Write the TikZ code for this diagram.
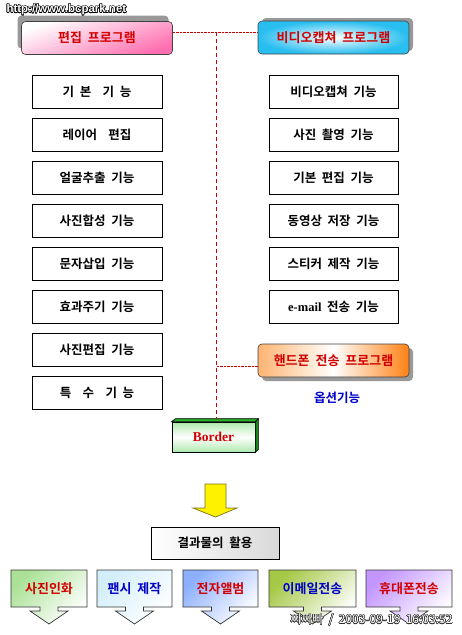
\documentclass[tikz,border=0pt]{standalone}
\usepackage{fontspec}
\setmainfont{Noto Sans CJK KR}[BoldFont={Noto Sans CJK KR Bold}, WordSpace=2]
\newfontfamily\borderfont{Liberation Serif}
\newfontfamily\urlfont{Liberation Sans}
\usepackage{contour}
\contourlength{0.5pt}
\usetikzlibrary{shadows}

\definecolor{textred}{RGB}{210,0,0}
\definecolor{textblue}{RGB}{0,0,200}
\definecolor{pinkfill}{RGB}{255,110,175}
\definecolor{skyfill}{RGB}{40,190,240}
\definecolor{orangefill}{RGB}{255,130,20}
\definecolor{barfill}{RGB}{40,200,40}
\definecolor{printfill}{RGB}{170,225,150}
\definecolor{fancyfill}{RGB}{210,238,250}
\definecolor{albumfill}{RGB}{140,175,255}
\definecolor{mailfill}{RGB}{165,200,70}
\definecolor{phonefill}{RGB}{195,150,255}

\pgfdeclareverticalshading{greenbar}{100bp}{color(0bp)=(barfill); color(30bp)=(white!70!barfill);
  color(50bp)=(white); color(70bp)=(white!70!barfill); color(100bp)=(barfill)}

% down arrow callout: left, right, colour
\newcommand{\outbox}[3]{%
  \shadedraw[top color=#3, bottom color=white, shading angle=45, draw=black!80, line width=0.7pt]
    (#1,570) -- (#2,570) -- (#2,607) -- ({(#1+#2)/2+9},607) -- ({(#1+#2)/2+9},611)
    -- ({(#1+#2)/2+19},611) -- ({(#1+#2)/2},624) -- ({(#1+#2)/2-19},611)
    -- ({(#1+#2)/2-9},611) -- ({(#1+#2)/2-9},607) -- (#1,607) -- cycle;}

\begin{document}
\begin{tikzpicture}[x=1pt, y=-1pt,
    func/.style={draw, line width=0.8pt, minimum width=130pt, minimum height=33pt,
      font=\fontsize{12.5}{14}\selectfont\bfseries},
    prog/.style={draw=black!75, line width=0.6pt, rounded corners=4pt, minimum width=151pt,
      minimum height=33pt, text=textred, font=\fontsize{13}{15}\selectfont\bfseries},
    link/.style={draw=red!80!black, densely dotted, thin},
    trunk/.style={draw=red!80!black, dash pattern=on 4pt off 3pt, thin},
    outlbl/.style={font=\fontsize{13}{15}\selectfont\bfseries}]
  \useasboundingbox (0,0) rectangle (461,635);

  % Site address
  \node[anchor=west, font=\urlfont\bfseries\fontsize{11.5}{13}\selectfont, text=white] (site) at (3,10)
    {\contour{black}{http://www.bcpark.net}};

  % Program headers
  \node[prog, top color=white, bottom color=pinkfill, shading angle=20,
    drop shadow={shadow xshift=-4pt, shadow yshift=6pt, fill=gray!80, opacity=1}] (edit) at (97,38) {편집 프로그램};
  \node[prog, inner color=white, outer color=skyfill,
    drop shadow={shadow xshift=4pt, shadow yshift=3pt, fill=gray!80, opacity=1}] (video) at (333.5,37.5) {비디오캡쳐 프로그램};
  \node[prog, left color=orangefill!60, right color=orangefill, middle color=white,
    drop shadow={shadow xshift=4pt, shadow yshift=-4pt, fill=gray!80, opacity=1}] (phone) at (333.5,360.5) {핸드폰 전송 프로그램};
  \node[font=\fontsize{12.5}{14}\selectfont\bfseries, text=textblue] (option) at (337,398) {옵션기능};

  % Editing functions
  \node[func] (e1) at (97,91.5) {기 본\ \ 기 능};
  \node[func] (e2) at (97,134.5) {레이어\ \ 편집};
  \node[func] (e3) at (97,177.5) {얼굴추출 기능};
  \node[func] (e4) at (97,220.5) {사진합성 기능};
  \node[func] (e5) at (97,263.5) {문자삽입 기능};
  \node[func] (e6) at (97,306.5) {효과주기 기능};
  \node[func] (e7) at (97,349.5) {사진편집 기능};
  \node[func] (e8) at (97,392.5) {특\ \ 수\ \ 기 능};

  % Video capture functions
  \node[func, minimum width=129pt] (v1) at (333.5,91.5) {비디오캡쳐 기능};
  \node[func, minimum width=129pt] (v2) at (333.5,134.5) {사진 촬영 기능};
  \node[func, minimum width=129pt] (v3) at (333.5,177.5) {기본 편집 기능};
  \node[func, minimum width=129pt] (v4) at (333.5,220.5) {동영상 저장 기능};
  \node[func, minimum width=129pt] (v5) at (333.5,263.5) {스티커 제작 기능};
  \node[func, minimum width=129pt] (v6) at (333.5,306.5) {{\borderfont\bfseries e-mail} 전송 기능};

  % Border block
  \node[draw, line width=0.7pt, minimum width=83pt, minimum height=30pt, shading=greenbar, text=textred,
    font=\borderfont\bfseries\fontsize{13.5}{15}\selectfont] (brd) at (213.5,437) {Border};
  \fill[barfill!90!black, draw=black, line width=0.7pt] (brd.north west) -- ++(4,-3) -- ([xshift=3pt, yshift=3pt]brd.north east) -- (brd.north east) -- cycle;
  \fill[barfill!65!black, draw=black, line width=0.7pt] (brd.north east) -- ++(3,-3) -- ([xshift=3pt, yshift=3pt]brd.south east) -- (brd.south east) -- cycle;

  % Dotted links
  \coordinate (junc) at (216,32);
  \draw[link] ([yshift=6pt]edit.east) -- ([yshift=6pt]edit.east -| video.west);
  \coordinate (ptap) at ([yshift=-5.5pt]phone.west);
  \draw[link] (ptap) -- (ptap -| junc);
  \draw[trunk] (junc) -- ([yshift=3pt]junc |- brd.north);

  % Yellow arrow
  \filldraw[fill=yellow, draw=olive!80!black, line width=0.7pt]
    (205,484) -- (226,484) -- (226,508) -- (237,508) -- (215.5,517) -- (193,508) -- (205,508) -- cycle;

  % Use of the results
  \node[draw, line width=0.7pt, minimum width=128pt, minimum height=32pt, left color=white, right color=gray!30,
    font=\fontsize{12.5}{14}\selectfont\bfseries] (use) at (215,543) {결과물의 활용};

  % Result callouts
  \outbox{11}{87}{printfill}
  \outbox{97}{172}{fancyfill}
  \outbox{183}{258}{albumfill}
  \outbox{269}{356}{mailfill}
  \outbox{366}{452}{phonefill}
  \node[outlbl, text=textred] (r1) at (49,588.5) {사진인화};
  \node[outlbl, text=textblue] (r2) at (134.5,588.5) {팬시 제작};
  \node[outlbl, text=textred] (r3) at (220.5,588.5) {전자앨범};
  \node[outlbl, text=textblue] (r4) at (312.5,588.5) {이메일전송};
  \node[outlbl, text=textred] (r5) at (409,588.5) {휴대폰전송};

  % Time stamp
  \node[anchor=east, font=\fontsize{12}{14}\selectfont, text=white] (stamp) at (456,620)
    {\contour{black!80}{찌짜빠 / 2003-09-19 16:03:52}};
\end{tikzpicture}
\end{document}
